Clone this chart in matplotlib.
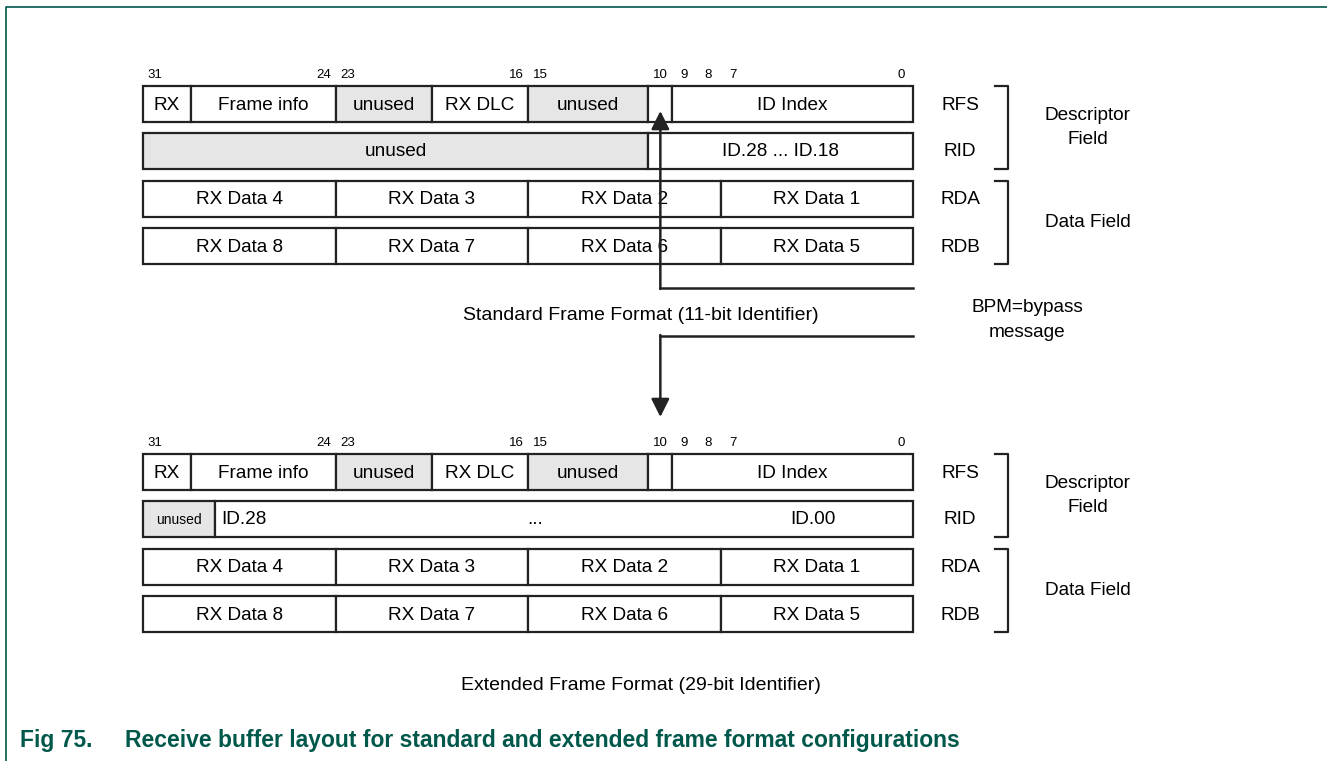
import matplotlib.pyplot as plt
from matplotlib.patches import Rectangle

plt.rcParams['font.family'] = ['Liberation Sans', 'DejaVu Sans']

# register fields: label, most significant bit, least significant bit, shaded
rfs_labels = ['RX', 'Frame info', 'unused', 'RX DLC', 'unused', '', 'ID Index']
rfs_msb = [31, 29, 23, 19, 15, 10, 9]
rfs_lsb = [30, 24, 20, 16, 11, 10, 0]
rfs_shaded = [False, False, True, False, True, False, False]

std_rid_labels = ['unused', 'ID.28 ... ID.18']
std_rid_msb = [31, 10]
std_rid_lsb = [11, 0]
std_rid_shaded = [True, False]

ext_rid_labels = ['unused', '']
ext_rid_msb = [31, 28]
ext_rid_lsb = [29, 0]
ext_rid_shaded = [True, False]

data_a_labels = ['RX Data 4', 'RX Data 3', 'RX Data 2', 'RX Data 1']
data_b_labels = ['RX Data 8', 'RX Data 7', 'RX Data 6', 'RX Data 5']
data_msb = [31, 23, 15, 7]
data_lsb = [24, 16, 8, 0]

bit_ticks = [31, 24, 23, 16, 15, 10, 9, 8, 7, 0]
reg_names = ['RFS', 'RID', 'RDA', 'RDB']

X0, BW = 143, 770 / 32      # left edge of bit 31, width of one bit
ROW_TOPS = [86, 133, 180.5, 228]
ROW_H = 36
LINE = '#222222'
SHADE = '#e6e6e6'
GREEN = '#00584a'
FS = 13.7


def bit_left(b):
    return X0 + (31 - b) * BW


def bit_right(b):
    return X0 + (32 - b) * BW


fig = plt.figure(figsize=(13.27, 7.61), dpi=100)
ax = fig.add_axes([0, 0, 1, 1])
ax.set_xlim(0, 1327)
ax.set_ylim(761, 0)
ax.axis('off')


def draw_row(top, labels, msb, lsb, shaded, small_unused=False):
    for lab, hi, lo, sh in zip(labels, msb, lsb, shaded):
        x1, x2 = bit_left(hi), bit_right(lo)
        ax.add_patch(Rectangle((x1, top), x2 - x1, ROW_H, facecolor=SHADE if sh else 'white',
                               edgecolor=LINE, lw=1.6))
        if lab:
            fs = 10 if (small_unused and lab == 'unused') else FS
            ax.text((x1 + x2) / 2, top + ROW_H / 2 + 1, lab, ha='center', va='center', fontsize=fs)


def draw_block(dy, rid_labels, rid_msb, rid_lsb, rid_shaded, small_unused=False):
    for b in bit_ticks:
        ax.text((bit_left(b) + bit_right(b)) / 2, 75 + dy, str(b), ha='center', va='center', fontsize=9.5)
    tops = [t + dy for t in ROW_TOPS]
    draw_row(tops[0], rfs_labels, rfs_msb, rfs_lsb, rfs_shaded)
    draw_row(tops[1], rid_labels, rid_msb, rid_lsb, rid_shaded, small_unused)
    draw_row(tops[2], data_a_labels, data_msb, data_lsb, [False] * 4)
    draw_row(tops[3], data_b_labels, data_msb, data_lsb, [False] * 4)
    for name, t in zip(reg_names, tops):
        ax.text(960, t + ROW_H / 2 + 1, name, ha='center', va='center', fontsize=FS)
    # brackets
    for y1, y2 in [(tops[0], tops[1] + ROW_H), (tops[2], tops[3] + ROW_H)]:
        ax.plot([995, 1008, 1008, 995], [y1, y1, y2, y2], color=LINE, lw=1.6)
    ax.text(1088, (tops[0] + tops[1] + ROW_H) / 2, 'Descriptor\nField', ha='center', va='center',
            fontsize=FS, linespacing=1.6)
    ax.text(1088, (tops[2] + tops[3] + ROW_H) / 2, 'Data Field', ha='center', va='center', fontsize=FS)
    return tops


draw_block(0, std_rid_labels, std_rid_msb, std_rid_lsb, std_rid_shaded)
tops = draw_block(368, ext_rid_labels, ext_rid_msb, ext_rid_lsb, ext_rid_shaded, small_unused=True)

# identifier text in extended RID row
yid = tops[1] + ROW_H / 2 + 1
ax.text(bit_left(28) + 6, yid, 'ID.28', ha='left', va='center', fontsize=FS)
ax.text(bit_left(15) + BW / 2 - 5, yid, '...', ha='center', va='center', fontsize=FS)
ax.text(813, yid, 'ID.00', ha='center', va='center', fontsize=FS)

# BPM arrows
xa = (bit_left(10) + bit_right(10)) / 2
head = dict(arrowstyle='-|>,head_length=1.1,head_width=0.55', color=LINE, lw=1.8,
            shrinkA=0, shrinkB=0)
ax.plot([xa, bit_right(0)], [288, 288], color=LINE, lw=1.8)
ax.annotate('', xy=(xa, 111), xytext=(xa, 289), arrowprops=head)
ax.plot([bit_right(0), xa], [336, 336], color=LINE, lw=1.8)
ax.annotate('', xy=(xa, 417), xytext=(xa, 335), arrowprops=head)
ax.text(1027, 320, 'BPM=bypass\nmessage', ha='center', va='center', fontsize=FS, linespacing=1.65)

ax.text(641, 316, 'Standard Frame Format (11-bit Identifier)', ha='center', va='center', fontsize=14)
ax.text(641, 686, 'Extended Frame Format (29-bit Identifier)', ha='center', va='center', fontsize=14)

# caption and frame
ax.text(20, 740, 'Fig 75.', ha='left', va='center', fontsize=16.5, fontweight='bold', color=GREEN)
ax.text(125, 740, 'Receive buffer layout for standard and extended frame format configurations',
        ha='left', va='center', fontsize=16.5, fontweight='bold', color=GREEN)
ax.plot([6, 6, 1327], [761, 7, 7], color=GREEN, lw=1.2)

fig.savefig('out.png', dpi=100)
